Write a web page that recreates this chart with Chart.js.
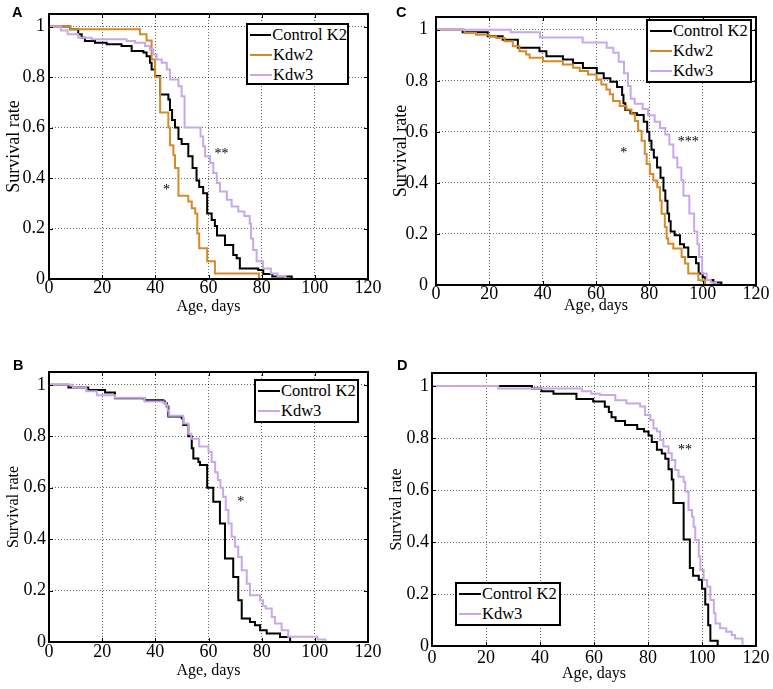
<!DOCTYPE html>
<html>
<head>
<meta charset="utf-8">
<script src="https://cdn.jsdelivr.net/npm/chart.js@4.4.1/dist/chart.umd.min.js"></script>
<style>
  html, body { margin: 0; padding: 0; background: #fff; }
  #wrap { position: relative; width: 773px; height: 689px; overflow: hidden; background: #fff; }
  canvas { position: absolute; }
  .lg { position: absolute; box-sizing: border-box; border: 2px solid #000; background: #fff;
        font-family: 'Liberation Serif', 'Times New Roman', serif; font-size: 16.5px; color: #000; padding-top: 0px; }
  .lg .row { display: flex; align-items: center; height: 20px; white-space: nowrap; }
  .lg .ln { display: inline-block; width: 22px; height: 2px; margin-left: 2px; margin-right: 1px; }
  .letter { position: absolute; font-family: 'Liberation Sans', Arial, sans-serif; font-weight: bold; font-size: 14.5px; line-height: 14px; color: #000; }
</style>
</head>
<body>
<div id="wrap"></div>
<script>
// ---------- tick labels ----------
const xTicks = [0, 20, 40, 60, 80, 100, 120];
const yTicks = [0, 0.2, 0.4, 0.6, 0.8, 1];
const seriesNames = ['Control K2', 'Kdw2', 'Kdw3'];

// ---------- Panel A ----------
const ageA_ctrl = [0, 8, 11, 12.3, 13.5, 17.3, 21.7, 27.3, 31.1, 35.5, 36.7, 38, 38.6, 39.9, 41.8, 44.9, 45.5, 46.3, 47.4, 48.7, 49.9, 52.4, 54, 55.5, 56.5, 58, 59.5, 61.2, 62.4, 63.2, 66.2, 69.3, 70.6, 71.8, 78.7, 80.6, 84, 91.3];
const survA_ctrl = [1, 0.99, 0.97, 0.956, 0.943, 0.936, 0.93, 0.923, 0.903, 0.897, 0.883, 0.857, 0.83, 0.804, 0.731, 0.711, 0.67, 0.63, 0.60, 0.555, 0.535, 0.486, 0.44, 0.39, 0.365, 0.34, 0.26, 0.234, 0.21, 0.172, 0.135, 0.095, 0.082, 0.042, 0.036, 0.02, 0.01, 0];
const ageA_kdw2 = [0, 8, 34.2, 36.7, 38.6, 39.9, 41.8, 44.9, 45.5, 46.8, 47.4, 48.7, 52.4, 53.7, 55, 55.8, 56.5, 59.5, 62.4, 79];
const survA_kdw2 = [1, 0.99, 0.97, 0.945, 0.87, 0.80, 0.66, 0.60, 0.53, 0.49, 0.44, 0.33, 0.307, 0.28, 0.26, 0.18, 0.122, 0.07, 0.022, 0];
const ageA_kdw3 = [0, 4.5, 7, 11, 16, 29.2, 32.4, 36.1, 38, 39.2, 40.5, 42.4, 44.3, 45.5, 48.7, 49.9, 51, 57, 58, 58.7, 60.6, 61.8, 63.1, 64.3, 66.9, 68.7, 71.2, 73.5, 75.5, 76, 76.8, 78.1, 80.5, 83.5, 86, 89];
const survA_kdw3 = [1, 0.985, 0.97, 0.956, 0.95, 0.943, 0.936, 0.923, 0.91, 0.89, 0.87, 0.857, 0.83, 0.79, 0.764, 0.724, 0.60, 0.565, 0.526, 0.486, 0.46, 0.42, 0.38, 0.347, 0.314, 0.287, 0.267, 0.25, 0.22, 0.16, 0.115, 0.07, 0.042, 0.022, 0.012, 0];

// ---------- Panel C ----------
const ageC_ctrl = [0, 10, 19.4, 25, 30.7, 38.8, 41.4, 47.6, 51.4, 55.1, 60.3, 62.9, 65.4, 67.9, 69.8, 70.3, 71, 72.9, 75.4, 77.9, 79.2, 80, 80.8, 81.7, 82.9, 84.2, 85.3, 86, 86.8, 87.4, 88, 89.5, 91.5, 93, 94.6, 97.5, 98.5, 100, 101, 104, 107];
const survC_ctrl = [1, 0.99, 0.975, 0.961, 0.93, 0.916, 0.896, 0.883, 0.87, 0.85, 0.83, 0.81, 0.796, 0.776, 0.744, 0.712, 0.686, 0.673, 0.666, 0.64, 0.60, 0.565, 0.53, 0.50, 0.46, 0.42, 0.37, 0.33, 0.28, 0.25, 0.21, 0.195, 0.16, 0.147, 0.11, 0.085, 0.045, 0.03, 0.02, 0.01, 0];
const ageC_kdw2 = [0, 10.7, 15, 20, 22.6, 25.7, 28.8, 31.3, 33.8, 35.1, 40.1, 47.6, 51.4, 53.9, 57, 60.2, 62, 63.9, 65.2, 66.4, 68.9, 71.4, 73.3, 74.6, 75.8, 77.1, 78.3, 79, 80.2, 81.5, 83, 84, 84.6, 85.8, 86.5, 87.1, 89, 92.1, 93.4, 94.6, 98.4, 100.9];
const survC_kdw2 = [1, 0.987, 0.98, 0.974, 0.968, 0.955, 0.935, 0.916, 0.903, 0.89, 0.877, 0.864, 0.851, 0.838, 0.825, 0.805, 0.786, 0.766, 0.747, 0.721, 0.701, 0.688, 0.669, 0.643, 0.604, 0.565, 0.513, 0.474, 0.435, 0.409, 0.383, 0.331, 0.279, 0.227, 0.182, 0.162, 0.143, 0.11, 0.084, 0.045, 0.019, 0];
const ageC_kdw3 = [0, 28, 39, 55, 64, 66.5, 68.5, 70.5, 72, 73, 74.5, 77.5, 79.5, 82, 84, 86, 87.5, 89, 90.5, 92, 92.8, 95, 96.8, 98, 98.7, 99.8, 101.5, 103, 105];
const survC_kdw3 = [1, 0.99, 0.97, 0.95, 0.93, 0.91, 0.875, 0.83, 0.78, 0.73, 0.71, 0.69, 0.665, 0.64, 0.615, 0.59, 0.55, 0.50, 0.46, 0.41, 0.35, 0.28, 0.21, 0.16, 0.11, 0.045, 0.02, 0.01, 0];

// ---------- Panel B ----------
const ageB_ctrl = [0, 7.3, 14.8, 21.1, 24.8, 36, 43, 43.6, 44.3, 44.9, 49.9, 50.5, 52.4, 53.7, 54.3, 56.2, 56.8, 59.5, 61.8, 64.3, 66.2, 69.3, 71.2, 72.5, 75.6, 77.5, 79.4, 81.9, 86.9, 90.7];
const survB_ctrl = [1, 0.99, 0.98, 0.97, 0.948, 0.94, 0.935, 0.928, 0.916, 0.877, 0.87, 0.844, 0.80, 0.753, 0.714, 0.70, 0.688, 0.60, 0.545, 0.461, 0.325, 0.253, 0.162, 0.091, 0.078, 0.065, 0.046, 0.033, 0.019, 0];
const ageB_kdw3 = [0, 9, 14, 18, 24.8, 36, 43, 44, 44.6, 45.2, 50.5, 52.4, 53.5, 56.5, 60, 61.2, 62.5, 63.5, 64.5, 65.5, 66.5, 67.5, 68.7, 70, 71.2, 72.5, 74.4, 75.6, 79.4, 80.5, 81.5, 83.8, 85, 87.5, 90, 101, 104];
const survB_kdw3 = [1, 0.99, 0.975, 0.96, 0.95, 0.935, 0.93, 0.92, 0.90, 0.88, 0.85, 0.81, 0.79, 0.76, 0.74, 0.70, 0.66, 0.63, 0.60, 0.565, 0.513, 0.461, 0.409, 0.37, 0.331, 0.279, 0.227, 0.182, 0.162, 0.14, 0.13, 0.097, 0.072, 0.046, 0.02, 0.01, 0];

// ---------- Panel D ----------
const ageD_ctrl = [0, 37, 40.5, 45, 53.5, 59.7, 64, 65.5, 66.5, 68, 71.5, 76, 78.5, 80.2, 81.4, 83.3, 85.1, 86.4, 87.6, 88.8, 89.4, 93.2, 95.5, 96.7, 98.8, 100, 101.2, 102.3, 103.1, 105.8];
const survD_ctrl = [1, 0.99, 0.98, 0.97, 0.95, 0.94, 0.92, 0.90, 0.88, 0.865, 0.85, 0.835, 0.825, 0.81, 0.785, 0.755, 0.74, 0.72, 0.68, 0.64, 0.55, 0.41, 0.30, 0.27, 0.255, 0.22, 0.16, 0.08, 0.02, 0];
const ageD_kdw3 = [0, 24.5, 55.5, 59, 62.3, 67.9, 72, 77.1, 78.9, 80.8, 82, 83.3, 84.5, 85.7, 87.6, 88.8, 90.1, 91.3, 93.2, 93.8, 95, 96.3, 96.9, 97.5, 98.8, 99.4, 100.6, 101.9, 103.1, 104.4, 105, 106.7, 109, 111, 112.2, 115];
const survD_kdw3 = [1, 0.99, 0.98, 0.97, 0.965, 0.945, 0.933, 0.921, 0.888, 0.869, 0.837, 0.825, 0.792, 0.767, 0.741, 0.715, 0.677, 0.651, 0.632, 0.594, 0.523, 0.497, 0.459, 0.408, 0.344, 0.292, 0.254, 0.228, 0.177, 0.126, 0.087, 0.068, 0.055, 0.042, 0.029, 0];

// ---------- significance marks ----------
const notesA = [{ text: '*', x: 44.2, y: 0.367 }, { text: '**', x: 64.9, y: 0.51 }];
const notesC = [{ text: '*', x: 70.4, y: 0.532 }, { text: '***', x: 94.6, y: 0.575 }];
const notesB = [{ text: '*', x: 72.1, y: 0.56 }];
const notesD = [{ text: '**', x: 93.7, y: 0.77 }];

// ---------- styles ----------
const COLORS = { 'Control K2': '#000000', 'Kdw2': '#D48A26', 'Kdw3': '#C7A9EA' };
const ORDER = { 'Control K2': 3, 'Kdw2': 2, 'Kdw3': 1 };
const SERIF = "'Liberation Serif', 'Times New Roman', serif";

const framePlugin = {
  id: 'frame',
  afterDatasetsDraw(chart) {
    const { ctx, chartArea: a, scales } = chart;
    ctx.save();
    ctx.strokeStyle = '#000';
    ctx.lineWidth = 1;
    const tl = 4;
    ctx.beginPath();
    xTicks.forEach(v => {
      const px = Math.round(scales.x.getPixelForValue(v)) + 0.5;
      ctx.moveTo(px, a.bottom); ctx.lineTo(px, a.bottom - tl);
      ctx.moveTo(px, a.top); ctx.lineTo(px, a.top + tl);
    });
    yTicks.forEach(v => {
      const py = Math.round(scales.y.getPixelForValue(v)) + 0.5;
      ctx.moveTo(a.left, py); ctx.lineTo(a.left + tl, py);
      ctx.moveTo(a.right, py); ctx.lineTo(a.right - tl, py);
    });
    ctx.stroke();
    ctx.lineWidth = 2;
    ctx.strokeRect(a.left, a.top, a.right - a.left, a.bottom - a.top);
    ctx.restore();
  }
};

const notesPlugin = {
  id: 'notes',
  afterDatasetsDraw(chart, args, opts) {
    const { ctx, scales } = chart;
    const fs = 14;
    ctx.save();
    ctx.fillStyle = '#000';
    ctx.font = fs + 'px ' + SERIF;
    ctx.textAlign = 'center';
    ctx.textBaseline = 'alphabetic';
    (opts.items || []).forEach(n => {
      ctx.fillText(n.text, scales.x.getPixelForValue(n.x), scales.y.getPixelForValue(n.y) + 0.55 * fs);
    });
    ctx.restore();
  }
};

const wrap = document.getElementById('wrap');

function makePanel(cfg) {
  const cv = document.createElement('canvas');
  cv.width = cfg.w; cv.height = cfg.h;
  cv.style.left = cfg.left + 'px'; cv.style.top = cfg.top + 'px';
  cv.style.width = cfg.w + 'px'; cv.style.height = cfg.h + 'px';
  wrap.appendChild(cv);

  const datasets = cfg.series.map(s => ({
    label: s.name,
    data: s.age.map((a, i) => ({ x: a, y: s.surv[i] })),
    borderColor: COLORS[s.name],
    backgroundColor: COLORS[s.name],
    borderWidth: 2,
    pointRadius: 0,
    stepped: true,
    fill: false,
    tension: 0,
    order: ORDER[s.name]
  }));

  const zeroPad = s => { s.paddingTop = 0; s.paddingBottom = 0; s.paddingLeft = 0; s.paddingRight = 0; };

  new Chart(cv.getContext('2d'), {
    type: 'line',
    data: { datasets },
    options: {
      responsive: false,
      animation: false,
      devicePixelRatio: 1,
      events: [],
      layout: { padding: { left: 0, right: cfg.padR, top: cfg.padT, bottom: 0 } },
      plugins: {
        legend: { display: false },
        tooltip: { enabled: false },
        notes: { items: cfg.notes }
      },
      scales: {
        x: {
          type: 'linear', min: 0, max: 120,
          afterBuildTicks: s => { s.ticks = xTicks.map(v => ({ value: v })); },
          afterFit: s => { s.height = cfg.xH; zeroPad(s); },
          ticks: { autoSkip: false, maxRotation: 0, padding: cfg.xTickPad, color: '#000',
                   font: { family: SERIF, size: 18, lineHeight: 1 }, callback: v => String(v) },
          grid: { color: 'rgba(0,0,0,0.6)', lineWidth: 1, drawTicks: false },
          border: { display: false, dash: [1, 2] },
          title: { display: true, text: 'Age, days', color: '#000',
                   font: { family: SERIF, size: 16, lineHeight: 1.2 },
                   padding: { top: 0, bottom: cfg.xTitlePad } }
        },
        y: {
          type: 'linear', min: 0, max: 1.05,
          afterBuildTicks: s => { s.ticks = yTicks.map(v => ({ value: v })); },
          afterFit: s => { s.width = cfg.yW; zeroPad(s); },
          ticks: { autoSkip: false, padding: cfg.yTickPad, color: '#000',
                   font: { family: SERIF, size: 18, lineHeight: 1 }, callback: v => String(v) },
          grid: { color: 'rgba(0,0,0,0.6)', lineWidth: 1, drawTicks: false },
          border: { display: false, dash: [1, 2] },
          title: { display: true, text: 'Survival rate', color: '#000',
                   font: { family: SERIF, size: cfg.yTitleSize, lineHeight: 1.2 },
                   padding: { top: cfg.yTitlePad, bottom: 0 } }
        }
      }
    },
    plugins: [framePlugin, notesPlugin]
  });

  // letter
  const L = document.createElement('div');
  L.className = 'letter';
  L.textContent = cfg.letter;
  L.style.left = cfg.letterPos[0] + 'px';
  L.style.top = cfg.letterPos[1] + 'px';
  wrap.appendChild(L);

  // legend
  const lg = document.createElement('div');
  lg.className = 'lg';
  lg.style.left = cfg.legend[0] + 'px';
  lg.style.top = cfg.legend[1] + 'px';
  lg.style.width = cfg.legend[2] + 'px';
  lg.style.height = cfg.legend[3] + 'px';
  cfg.series.forEach(s => {
    const row = document.createElement('div');
    row.className = 'row';
    const ln = document.createElement('span');
    ln.className = 'ln';
    ln.style.background = COLORS[s.name];
    const tx = document.createElement('span');
    tx.textContent = s.name;
    row.appendChild(ln); row.appendChild(tx);
    lg.appendChild(row);
  });
  wrap.appendChild(lg);
}

makePanel({
  letter: 'A', letterPos: [12, 5],
  left: 0, top: 0, w: 383, h: 320, padR: 15, padT: 14, yW: 49, xH: 41,
  xTickPad: 0.5, yTickPad: 4, xTitlePad: 4, yTitlePad: 3.5, yTitleSize: 18,
  legend: [246, 23, 103, 62],
  notes: notesA,
  series: [
    { name: seriesNames[0], age: ageA_ctrl, surv: survA_ctrl },
    { name: seriesNames[1], age: ageA_kdw2, surv: survA_kdw2 },
    { name: seriesNames[2], age: ageA_kdw3, surv: survA_kdw3 }
  ]
});

makePanel({
  letter: 'C', letterPos: [396, 5],
  left: 383, top: 0, w: 390, h: 320, padR: 17, padT: 17, yW: 53, xH: 35,
  xTickPad: 0, yTickPad: 8, xTitlePad: 5, yTitlePad: 7.5, yTitleSize: 18,
  legend: [646, 19, 106, 64],
  notes: notesC,
  series: [
    { name: seriesNames[0], age: ageC_ctrl, surv: survC_ctrl },
    { name: seriesNames[1], age: ageC_kdw2, surv: survC_kdw2 },
    { name: seriesNames[2], age: ageC_kdw3, surv: survC_kdw3 }
  ]
});

makePanel({
  letter: 'B', letterPos: [13, 358],
  left: 0, top: 330, w: 383, h: 359, padR: 15, padT: 42, yW: 49, xH: 47,
  xTickPad: 1, yTickPad: 3, xTitlePad: 9, yTitlePad: 4, yTitleSize: 16,
  legend: [254, 379, 105, 44],
  notes: notesB,
  series: [
    { name: seriesNames[0], age: ageB_ctrl, surv: survB_ctrl },
    { name: seriesNames[2], age: ageB_kdw3, surv: survB_kdw3 }
  ]
});

makePanel({
  letter: 'D', letterPos: [397, 358],
  left: 383, top: 330, w: 390, h: 359, padR: 17, padT: 43, yW: 49, xH: 43,
  xTickPad: 3.5, yTickPad: 3, xTitlePad: 6, yTitlePad: 4, yTitleSize: 16,
  legend: [455, 582, 106, 44],
  notes: notesD,
  series: [
    { name: seriesNames[0], age: ageD_ctrl, surv: survD_ctrl },
    { name: seriesNames[2], age: ageD_kdw3, surv: survD_kdw3 }
  ]
});
</script>
</body>
</html>
